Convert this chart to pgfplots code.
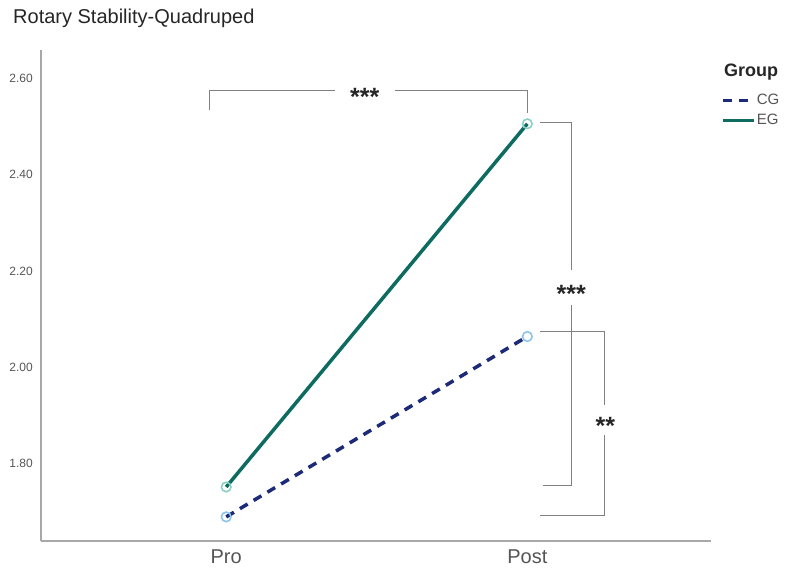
\documentclass[border=0pt]{standalone}
\usepackage{pgfplots}
\pgfplotsset{compat=1.18}
\usepackage{fontspec}
\setmainfont{Liberation Sans}
\definecolor{eg}{HTML}{0E6B60}
\definecolor{cg}{HTML}{1C2A78}
\definecolor{egm}{HTML}{8CCFC6}
\definecolor{cgm}{HTML}{8CC4EC}
\definecolor{axg}{HTML}{A8A8A8}
\definecolor{brk}{HTML}{808080}
\definecolor{txt}{HTML}{555555}
\begin{document}
\begin{tikzpicture}
\begin{axis}[
  width=670pt, height=491pt, scale only axis,
  xmin=0.385, xmax=2.61, ymin=1.640, ymax=2.658,
  axis x line*=bottom, axis y line*=left,
  axis line style={axg, line width=1.6pt},
  major tick length=0pt,
  xtick={1,2}, xticklabels={Pro,Post},
  xticklabel style={font=\fontsize{20}{24}\selectfont, text=txt, inner sep=0pt, yshift=-9pt},
  ytick={1.8,2.0,2.2,2.4,2.6},
  yticklabel style={font=\fontsize{12}{14}\selectfont, text=txt, inner sep=0pt, xshift=-8pt,
    /pgf/number format/.cd, fixed, fixed zerofill, precision=2},
  /pgf/number format/assume math mode=true,
  clip=false,
  legend style={draw=none, fill=none, at={(1.015,0.912)}, anchor=north west,
    font=\fontsize{15}{18}\selectfont, text=txt, row sep=6pt, inner sep=0pt,
    nodes={inner sep=1pt, xshift=2pt}},
  legend cell align=left,
  legend image code/.code={\draw[#1] (0pt,0pt) -- (31pt,0pt);},
]
\addplot[cg, line width=3.5pt, dash pattern=on 9pt off 7pt, mark=o, mark size=4.8pt,
  mark options={solid, draw=cgm, line width=1.6pt}] coordinates {(1,1.690) (2,2.064)};
\addlegendentry{CG}
\addplot[eg, line width=3.5pt, mark=o, mark size=4.8pt,
  mark options={solid, draw=egm, line width=1.6pt}] coordinates {(1,1.752) (2,2.505)};
\addlegendentry{EG}
% page extent
\path (rel axis cs:-0.0612,1.1018) rectangle (rel axis cs:1.1104,-0.0733);
\node[anchor=base west, inner sep=0pt, font=\fontsize{20}{24}\selectfont, text=black!85] at (rel axis cs:-0.0418,1.0530) {Rotary Stability-Quadruped};
\node[anchor=base west, inner sep=0pt, font=\fontsize{18}{22}\selectfont\bfseries, text=black!85] at (rel axis cs:1.0194,0.945) {Group};
% significance brackets
\draw[brk, line width=1pt] (axis cs:0.9435,2.534) |- (axis cs:1.362,2.575);
\draw[brk, line width=1pt] (axis cs:1.561,2.575) -| (axis cs:2.0,2.527);
\node[anchor=base, inner sep=0pt, yshift=-15pt, font=\fontsize{25}{28}\selectfont\bfseries, text=black!85] at (axis cs:1.46,2.575) {***};
\draw[brk, line width=1pt] (axis cs:2.043,2.507) -| (axis cs:2.146,2.202);
\draw[brk, line width=1pt] (axis cs:2.146,2.130) |- (axis cs:2.053,1.756);
\node[anchor=base, inner sep=0pt, yshift=-15pt, font=\fontsize{25}{28}\selectfont\bfseries, text=black!85] at (axis cs:2.146,2.165) {***};
\draw[brk, line width=1pt] (axis cs:2.043,2.074) -| (axis cs:2.256,1.922);
\draw[brk, line width=1pt] (axis cs:2.256,1.860) |- (axis cs:2.043,1.692);
\node[anchor=base, inner sep=0pt, yshift=-15pt, font=\fontsize{25}{28}\selectfont\bfseries, text=black!85] at (axis cs:2.259,1.891) {**};
\end{axis}
\end{tikzpicture}
\end{document}
